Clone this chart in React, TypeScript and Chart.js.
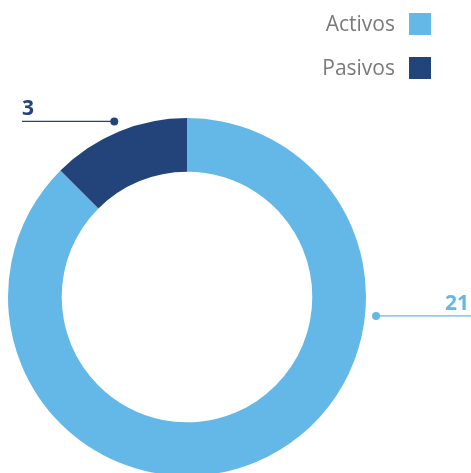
import React, { useEffect, useRef } from 'react';
import { Chart, registerables } from 'chart.js';

Chart.register(...registerables);

const categories = ['Activos', 'Pasivos'];
const values = [21, 3];
const colors = ['#64b8e7', '#23447a'];
const valueLabels = ['21', '3'];

const W = 471;
const H = 473;
const CH = 480;

const overlayPlugin = {
  id: 'overlayLabels',
  afterDatasetsDraw(chart: any) {
    const ctx = chart.ctx as CanvasRenderingContext2D;
    const meta = chart.getDatasetMeta(0);
    const fontFam = '"Open Sans", "Noto Sans", sans-serif';

    // leader labels
    meta.data.forEach((arc: any, i: number) => {
      const { x, y, outerRadius, startAngle, endAngle } = arc.getProps(
        ['x', 'y', 'outerRadius', 'startAngle', 'endAngle'],
        true
      );
      const ang = i === 0 ? 0.1 : (startAngle + endAngle) / 2;
      const r = outerRadius + 11;
      const dx = x + Math.cos(ang) * r;
      const dy = y + Math.sin(ang) * r;
      const goRight = Math.cos(ang) > 0;
      const endX = goRight ? chart.width : 22;
      ctx.save();
      ctx.strokeStyle = colors[i];
      ctx.lineWidth = 1.3;
      ctx.beginPath();
      ctx.moveTo(dx, dy);
      ctx.lineTo(endX, dy);
      ctx.stroke();
      ctx.fillStyle = colors[i];
      ctx.beginPath();
      ctx.arc(dx, dy, 4, 0, Math.PI * 2);
      ctx.fill();
      ctx.font = `bold 21px ${fontFam}`;
      ctx.textBaseline = 'alphabetic';
      ctx.textAlign = goRight ? 'right' : 'left';
      ctx.fillText(valueLabels[i], goRight ? chart.width - 2 : 22, dy - 6);
      ctx.restore();
    });

    // legend (text left of swatch, top right)
    ctx.save();
    categories.forEach((c, i) => {
      const boxX = 409;
      const boxY = 13 + i * 44;
      ctx.fillStyle = colors[i];
      ctx.fillRect(boxX, boxY, 22, 22);
      ctx.fillStyle = '#7a7a7a';
      ctx.font = `400 21px ${fontFam}`;
      ctx.textAlign = 'right';
      ctx.textBaseline = 'middle';
      ctx.fillText(c, boxX - 14, boxY + 12);
    });
    ctx.restore();
  },
};

export default function App() {
  const ref = useRef<HTMLCanvasElement | null>(null);
  useEffect(() => {
    if (!ref.current) return;
    const chart = new Chart(ref.current, {
      type: 'doughnut',
      data: {
        labels: categories,
        datasets: [
          {
            data: values,
            backgroundColor: colors,
            borderWidth: 0,
            hoverOffset: 0,
          },
        ],
      },
      options: {
        animation: false,
        responsive: false,
        cutout: '70%',
        layout: { padding: { left: 8, right: W - 366, top: 118, bottom: CH - 476 } },
        plugins: {
          legend: { display: false },
          tooltip: { enabled: false },
        },
      },
      plugins: [overlayPlugin],
    });
    return () => chart.destroy();
  }, []);
  return (
    <div
      style={{
        position: 'fixed',
        left: 0,
        top: 0,
        width: W,
        height: H,
        overflow: 'hidden',
        background: '#fff',
      }}
    >
      <canvas ref={ref} width={W} height={CH} style={{ width: W, height: CH, display: 'block' }} />
    </div>
  );
}
